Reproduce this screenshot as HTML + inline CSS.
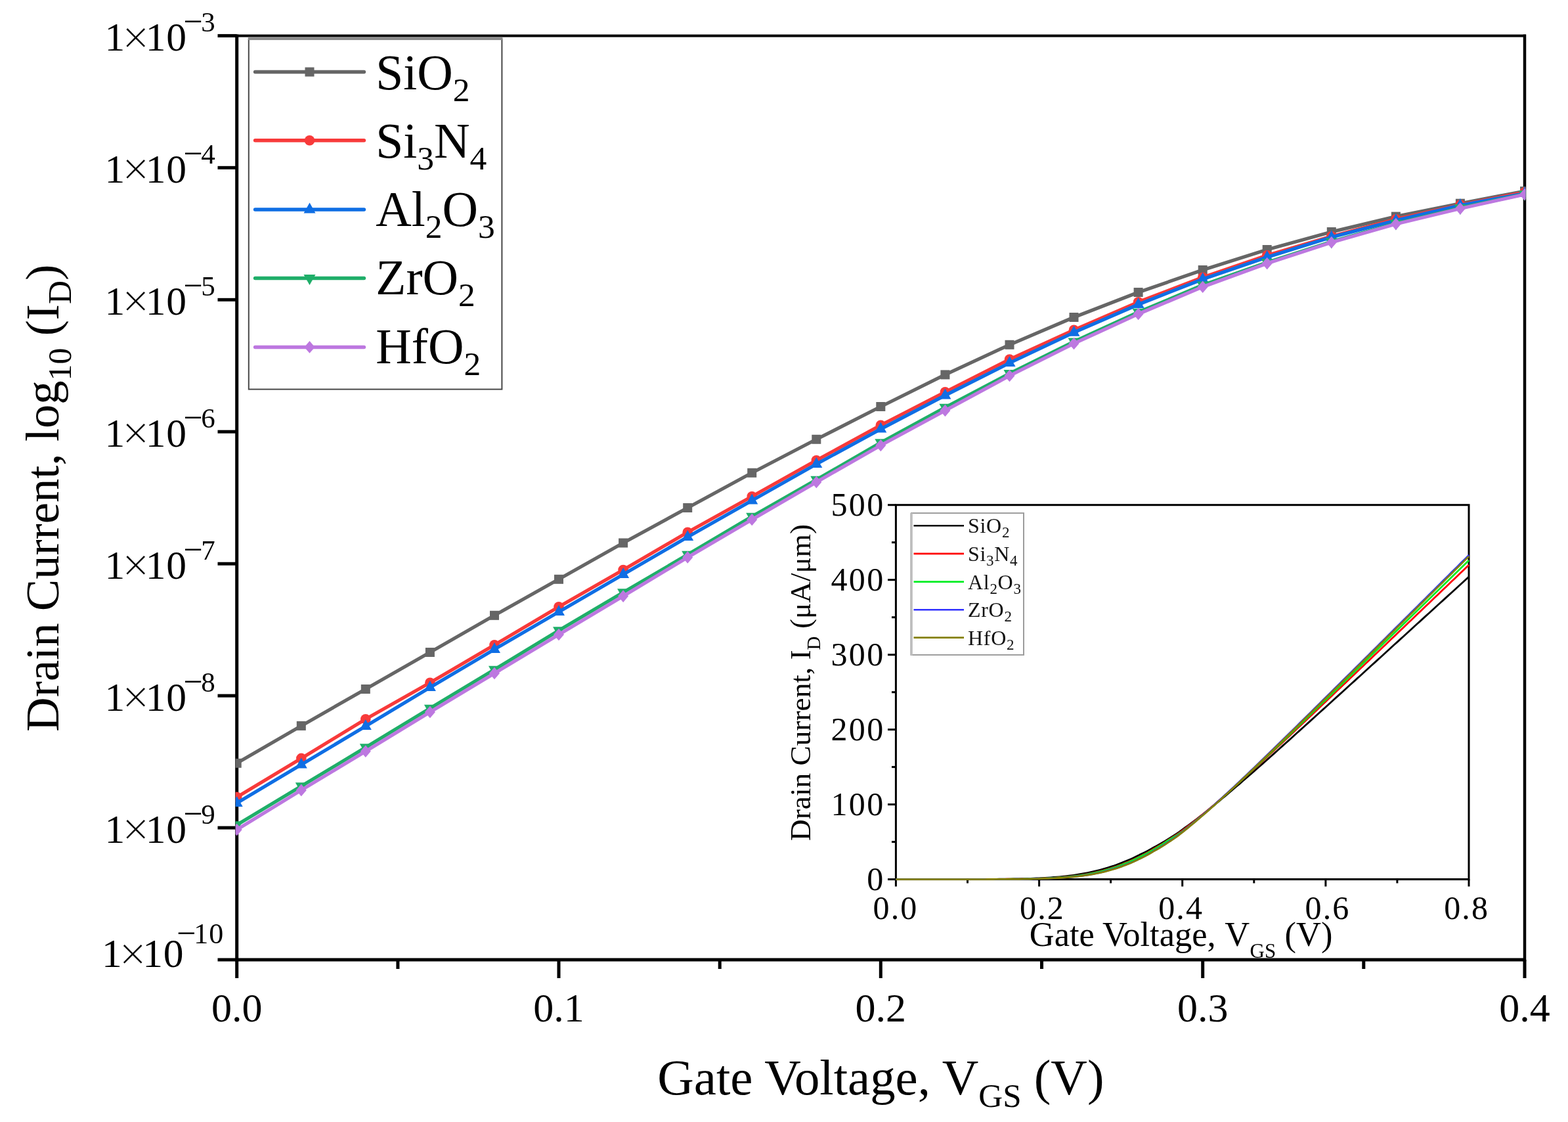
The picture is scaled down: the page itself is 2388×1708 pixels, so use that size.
<!DOCTYPE html><html><head><meta charset="utf-8"><title>Drain current vs gate voltage</title><style>html,body{margin:0;padding:0;background:#fff;overflow:hidden}svg{display:block}text{font-family:"Liberation Serif","Times New Roman",serif}</style></head><body>
<svg width="2388" height="1708" viewBox="0 0 2388 1708">
<rect width="2388" height="1708" fill="#fff"/>
<defs><clipPath id="cp"><rect x="358.7" y="54.4" width="1964.8" height="1406.6"/></clipPath></defs>
<g stroke="#000" fill="none" stroke-linecap="butt">
<line x1="358.2" y1="1461.0" x2="2324.0" y2="1461.0" stroke-width="5"/>
<line x1="360.7" y1="52.4" x2="360.7" y2="1463.5" stroke-width="5"/>
<line x1="358.2" y1="54.4" x2="2324.0" y2="54.4" stroke-width="4"/>
<line x1="2322.0" y1="52.4" x2="2322.0" y2="1463.5" stroke-width="4.5"/>
<line x1="331.5" y1="1461.0" x2="360.7" y2="1461.0" stroke-width="5"/>
<line x1="331.5" y1="1260.1" x2="360.7" y2="1260.1" stroke-width="5"/>
<line x1="331.5" y1="1059.1" x2="360.7" y2="1059.1" stroke-width="5"/>
<line x1="331.5" y1="858.2" x2="360.7" y2="858.2" stroke-width="5"/>
<line x1="331.5" y1="657.2" x2="360.7" y2="657.2" stroke-width="5"/>
<line x1="331.5" y1="456.3" x2="360.7" y2="456.3" stroke-width="5"/>
<line x1="331.5" y1="255.3" x2="360.7" y2="255.3" stroke-width="5"/>
<line x1="331.5" y1="54.4" x2="360.7" y2="54.4" stroke-width="5"/>
<line x1="360.7" y1="1461.0" x2="360.7" y2="1489" stroke-width="5"/>
<line x1="851.0" y1="1461.0" x2="851.0" y2="1489" stroke-width="5"/>
<line x1="1341.3" y1="1461.0" x2="1341.3" y2="1489" stroke-width="5"/>
<line x1="1831.7" y1="1461.0" x2="1831.7" y2="1489" stroke-width="5"/>
<line x1="2322.0" y1="1461.0" x2="2322.0" y2="1489" stroke-width="5"/>
<line x1="605.9" y1="1461.0" x2="605.9" y2="1475" stroke-width="5"/>
<line x1="1096.2" y1="1461.0" x2="1096.2" y2="1475" stroke-width="5"/>
<line x1="1586.5" y1="1461.0" x2="1586.5" y2="1475" stroke-width="5"/>
<line x1="2076.8" y1="1461.0" x2="2076.8" y2="1475" stroke-width="5"/>
</g>
<g clip-path="url(#cp)">
<polyline points="360.7,1161.8 458.8,1104.9 556.8,1049.0 654.9,993.0 753.0,936.8 851.0,881.8 949.1,826.5 1047.2,773.0 1145.2,719.8 1243.3,668.8 1341.3,619.0 1439.4,570.4 1537.5,524.8 1635.5,483.0 1733.6,445.0 1831.7,411.0 1929.7,380.0 2027.8,353.0 2125.9,329.6 2223.9,309.7 2322.0,291.0" fill="none" stroke="#666666" stroke-width="5.2" stroke-linejoin="round"/>
<rect x="353.7" y="1154.8" width="14" height="14" fill="#666666"/>
<rect x="451.8" y="1097.9" width="14" height="14" fill="#666666"/>
<rect x="549.8" y="1042.0" width="14" height="14" fill="#666666"/>
<rect x="647.9" y="986.0" width="14" height="14" fill="#666666"/>
<rect x="746.0" y="929.8" width="14" height="14" fill="#666666"/>
<rect x="844.0" y="874.8" width="14" height="14" fill="#666666"/>
<rect x="942.1" y="819.5" width="14" height="14" fill="#666666"/>
<rect x="1040.2" y="766.0" width="14" height="14" fill="#666666"/>
<rect x="1138.2" y="712.8" width="14" height="14" fill="#666666"/>
<rect x="1236.3" y="661.8" width="14" height="14" fill="#666666"/>
<rect x="1334.3" y="612.0" width="14" height="14" fill="#666666"/>
<rect x="1432.4" y="563.4" width="14" height="14" fill="#666666"/>
<rect x="1530.5" y="517.8" width="14" height="14" fill="#666666"/>
<rect x="1628.5" y="476.0" width="14" height="14" fill="#666666"/>
<rect x="1726.6" y="438.0" width="14" height="14" fill="#666666"/>
<rect x="1824.7" y="404.0" width="14" height="14" fill="#666666"/>
<rect x="1922.7" y="373.0" width="14" height="14" fill="#666666"/>
<rect x="2020.8" y="346.0" width="14" height="14" fill="#666666"/>
<rect x="2118.9" y="322.6" width="14" height="14" fill="#666666"/>
<rect x="2216.9" y="302.7" width="14" height="14" fill="#666666"/>
<rect x="2315.0" y="284.0" width="14" height="14" fill="#666666"/>
<polyline points="360.7,1213.4 458.8,1154.4 556.8,1094.8 654.9,1039.3 753.0,981.8 851.0,923.8 949.1,867.5 1047.2,810.2 1145.2,755.8 1243.3,700.8 1341.3,647.3 1439.4,596.8 1537.5,547.1 1635.5,502.3 1733.6,459.8 1831.7,422.3 1929.7,388.8 2027.8,359.8 2125.9,333.8 2223.9,311.8 2322.0,292.8" fill="none" stroke="#f83a3a" stroke-width="5.2" stroke-linejoin="round"/>
<circle cx="360.7" cy="1213.4" r="7.8" fill="#f83a3a"/>
<circle cx="458.8" cy="1154.4" r="7.8" fill="#f83a3a"/>
<circle cx="556.8" cy="1094.8" r="7.8" fill="#f83a3a"/>
<circle cx="654.9" cy="1039.3" r="7.8" fill="#f83a3a"/>
<circle cx="753.0" cy="981.8" r="7.8" fill="#f83a3a"/>
<circle cx="851.0" cy="923.8" r="7.8" fill="#f83a3a"/>
<circle cx="949.1" cy="867.5" r="7.8" fill="#f83a3a"/>
<circle cx="1047.2" cy="810.2" r="7.8" fill="#f83a3a"/>
<circle cx="1145.2" cy="755.8" r="7.8" fill="#f83a3a"/>
<circle cx="1243.3" cy="700.8" r="7.8" fill="#f83a3a"/>
<circle cx="1341.3" cy="647.3" r="7.8" fill="#f83a3a"/>
<circle cx="1439.4" cy="596.8" r="7.8" fill="#f83a3a"/>
<circle cx="1537.5" cy="547.1" r="7.8" fill="#f83a3a"/>
<circle cx="1635.5" cy="502.3" r="7.8" fill="#f83a3a"/>
<circle cx="1733.6" cy="459.8" r="7.8" fill="#f83a3a"/>
<circle cx="1831.7" cy="422.3" r="7.8" fill="#f83a3a"/>
<circle cx="1929.7" cy="388.8" r="7.8" fill="#f83a3a"/>
<circle cx="2027.8" cy="359.8" r="7.8" fill="#f83a3a"/>
<circle cx="2125.9" cy="333.8" r="7.8" fill="#f83a3a"/>
<circle cx="2223.9" cy="311.8" r="7.8" fill="#f83a3a"/>
<circle cx="2322.0" cy="292.8" r="7.8" fill="#f83a3a"/>
<polyline points="360.7,1222.5 458.8,1164.0 556.8,1105.5 654.9,1046.5 753.0,988.5 851.0,931.5 949.1,874.5 1047.2,817.5 1145.2,761.9 1243.3,706.5 1341.3,653.1 1439.4,601.9 1537.5,552.5 1635.5,506.2 1733.6,463.5 1831.7,425.0 1929.7,391.5 2027.8,361.1 2125.9,335.5 2223.9,312.5 2322.0,294.5" fill="none" stroke="#0f6ee4" stroke-width="5.2" stroke-linejoin="round"/>
<path d="M360.7 1212.0L369.7 1228.0L351.7 1228.0Z" fill="#0f6ee4"/>
<path d="M458.8 1153.5L467.8 1169.5L449.8 1169.5Z" fill="#0f6ee4"/>
<path d="M556.8 1095.0L565.8 1111.0L547.8 1111.0Z" fill="#0f6ee4"/>
<path d="M654.9 1036.0L663.9 1052.0L645.9 1052.0Z" fill="#0f6ee4"/>
<path d="M753.0 978.0L762.0 994.0L744.0 994.0Z" fill="#0f6ee4"/>
<path d="M851.0 921.0L860.0 937.0L842.0 937.0Z" fill="#0f6ee4"/>
<path d="M949.1 864.0L958.1 880.0L940.1 880.0Z" fill="#0f6ee4"/>
<path d="M1047.2 807.0L1056.2 823.0L1038.2 823.0Z" fill="#0f6ee4"/>
<path d="M1145.2 751.4L1154.2 767.4L1136.2 767.4Z" fill="#0f6ee4"/>
<path d="M1243.3 696.0L1252.3 712.0L1234.3 712.0Z" fill="#0f6ee4"/>
<path d="M1341.3 642.6L1350.3 658.6L1332.3 658.6Z" fill="#0f6ee4"/>
<path d="M1439.4 591.4L1448.4 607.4L1430.4 607.4Z" fill="#0f6ee4"/>
<path d="M1537.5 542.0L1546.5 558.0L1528.5 558.0Z" fill="#0f6ee4"/>
<path d="M1635.5 495.7L1644.5 511.7L1626.5 511.7Z" fill="#0f6ee4"/>
<path d="M1733.6 453.0L1742.6 469.0L1724.6 469.0Z" fill="#0f6ee4"/>
<path d="M1831.7 414.5L1840.7 430.5L1822.7 430.5Z" fill="#0f6ee4"/>
<path d="M1929.7 381.0L1938.7 397.0L1920.7 397.0Z" fill="#0f6ee4"/>
<path d="M2027.8 350.6L2036.8 366.6L2018.8 366.6Z" fill="#0f6ee4"/>
<path d="M2125.9 325.0L2134.9 341.0L2116.9 341.0Z" fill="#0f6ee4"/>
<path d="M2223.9 302.0L2232.9 318.0L2214.9 318.0Z" fill="#0f6ee4"/>
<path d="M2322.0 284.0L2331.0 300.0L2313.0 300.0Z" fill="#0f6ee4"/>
<polyline points="360.7,1255.8 458.8,1196.8 556.8,1137.8 654.9,1078.3 753.0,1019.3 851.0,959.8 949.1,901.8 1047.2,844.3 1145.2,786.3 1243.3,730.3 1341.3,673.8 1439.4,620.3 1537.5,568.5 1635.5,520.0 1733.6,475.2 1831.7,434.0 1929.7,399.5 2027.8,368.0 2125.9,340.0 2223.9,316.5 2322.0,295.5" fill="none" stroke="#1fae69" stroke-width="5.2" stroke-linejoin="round"/>
<path d="M360.7 1266.3L369.7 1250.3L351.7 1250.3Z" fill="#1fae69"/>
<path d="M458.8 1207.3L467.8 1191.3L449.8 1191.3Z" fill="#1fae69"/>
<path d="M556.8 1148.3L565.8 1132.3L547.8 1132.3Z" fill="#1fae69"/>
<path d="M654.9 1088.8L663.9 1072.8L645.9 1072.8Z" fill="#1fae69"/>
<path d="M753.0 1029.8L762.0 1013.8L744.0 1013.8Z" fill="#1fae69"/>
<path d="M851.0 970.3L860.0 954.3L842.0 954.3Z" fill="#1fae69"/>
<path d="M949.1 912.3L958.1 896.3L940.1 896.3Z" fill="#1fae69"/>
<path d="M1047.2 854.8L1056.2 838.8L1038.2 838.8Z" fill="#1fae69"/>
<path d="M1145.2 796.8L1154.2 780.8L1136.2 780.8Z" fill="#1fae69"/>
<path d="M1243.3 740.8L1252.3 724.8L1234.3 724.8Z" fill="#1fae69"/>
<path d="M1341.3 684.3L1350.3 668.3L1332.3 668.3Z" fill="#1fae69"/>
<path d="M1439.4 630.8L1448.4 614.8L1430.4 614.8Z" fill="#1fae69"/>
<path d="M1537.5 579.0L1546.5 563.0L1528.5 563.0Z" fill="#1fae69"/>
<path d="M1635.5 530.5L1644.5 514.5L1626.5 514.5Z" fill="#1fae69"/>
<path d="M1733.6 485.7L1742.6 469.7L1724.6 469.7Z" fill="#1fae69"/>
<path d="M1831.7 444.5L1840.7 428.5L1822.7 428.5Z" fill="#1fae69"/>
<path d="M1929.7 410.0L1938.7 394.0L1920.7 394.0Z" fill="#1fae69"/>
<path d="M2027.8 378.5L2036.8 362.5L2018.8 362.5Z" fill="#1fae69"/>
<path d="M2125.9 350.5L2134.9 334.5L2116.9 334.5Z" fill="#1fae69"/>
<path d="M2223.9 327.0L2232.9 311.0L2214.9 311.0Z" fill="#1fae69"/>
<path d="M2322.0 306.0L2331.0 290.0L2313.0 290.0Z" fill="#1fae69"/>
<polyline points="360.7,1263.0 458.8,1202.9 556.8,1143.7 654.9,1084.0 753.0,1025.0 851.0,966.0 949.1,907.6 1047.2,848.4 1145.2,791.0 1243.3,734.0 1341.3,678.0 1439.4,625.0 1537.5,572.0 1635.5,523.0 1733.6,478.0 1831.7,436.7 1929.7,401.0 2027.8,369.0 2125.9,341.0 2223.9,317.5 2322.0,296.0" fill="none" stroke="#bd78e0" stroke-width="5.2" stroke-linejoin="round"/>
<path d="M360.7 1253.7L368.7 1263.0L360.7 1272.3L352.7 1263.0Z" fill="#bd78e0"/>
<path d="M458.8 1193.6L466.8 1202.9L458.8 1212.2L450.8 1202.9Z" fill="#bd78e0"/>
<path d="M556.8 1134.4L564.8 1143.7L556.8 1153.0L548.8 1143.7Z" fill="#bd78e0"/>
<path d="M654.9 1074.7L662.9 1084.0L654.9 1093.3L646.9 1084.0Z" fill="#bd78e0"/>
<path d="M753.0 1015.7L761.0 1025.0L753.0 1034.3L745.0 1025.0Z" fill="#bd78e0"/>
<path d="M851.0 956.7L859.0 966.0L851.0 975.3L843.0 966.0Z" fill="#bd78e0"/>
<path d="M949.1 898.3L957.1 907.6L949.1 916.9L941.1 907.6Z" fill="#bd78e0"/>
<path d="M1047.2 839.1L1055.2 848.4L1047.2 857.7L1039.2 848.4Z" fill="#bd78e0"/>
<path d="M1145.2 781.7L1153.2 791.0L1145.2 800.3L1137.2 791.0Z" fill="#bd78e0"/>
<path d="M1243.3 724.7L1251.3 734.0L1243.3 743.3L1235.3 734.0Z" fill="#bd78e0"/>
<path d="M1341.3 668.7L1349.3 678.0L1341.3 687.3L1333.3 678.0Z" fill="#bd78e0"/>
<path d="M1439.4 615.7L1447.4 625.0L1439.4 634.3L1431.4 625.0Z" fill="#bd78e0"/>
<path d="M1537.5 562.7L1545.5 572.0L1537.5 581.3L1529.5 572.0Z" fill="#bd78e0"/>
<path d="M1635.5 513.7L1643.5 523.0L1635.5 532.3L1627.5 523.0Z" fill="#bd78e0"/>
<path d="M1733.6 468.7L1741.6 478.0L1733.6 487.3L1725.6 478.0Z" fill="#bd78e0"/>
<path d="M1831.7 427.4L1839.7 436.7L1831.7 446.0L1823.7 436.7Z" fill="#bd78e0"/>
<path d="M1929.7 391.7L1937.7 401.0L1929.7 410.3L1921.7 401.0Z" fill="#bd78e0"/>
<path d="M2027.8 359.7L2035.8 369.0L2027.8 378.3L2019.8 369.0Z" fill="#bd78e0"/>
<path d="M2125.9 331.7L2133.9 341.0L2125.9 350.3L2117.9 341.0Z" fill="#bd78e0"/>
<path d="M2223.9 308.2L2231.9 317.5L2223.9 326.8L2215.9 317.5Z" fill="#bd78e0"/>
<path d="M2322.0 286.7L2330.0 296.0L2322.0 305.3L2314.0 296.0Z" fill="#bd78e0"/>
</g>
<text x="360.7" y="1555" font-size="62" text-anchor="middle">0.0</text>
<text x="851.0" y="1555" font-size="62" text-anchor="middle">0.1</text>
<text x="1341.3" y="1555" font-size="62" text-anchor="middle">0.2</text>
<text x="1831.7" y="1555" font-size="62" text-anchor="middle">0.3</text>
<text x="2322.0" y="1555" font-size="62" text-anchor="middle">0.4</text>
<text y="1282.6" font-size="61.5"><tspan x="159.4">1</tspan><tspan x="185.8" font-size="74" dy="4.6" stroke="#fff" stroke-width="1.1">×</tspan><tspan x="221.8" dy="-4.6">1</tspan><tspan x="253.3">0</tspan><tspan x="279.2" font-size="52" dy="-26.5">−</tspan><tspan x="306.3" font-size="43" dy="-2">9</tspan></text>
<text y="1081.6" font-size="61.5"><tspan x="159.4">1</tspan><tspan x="185.8" font-size="74" dy="4.6" stroke="#fff" stroke-width="1.1">×</tspan><tspan x="221.8" dy="-4.6">1</tspan><tspan x="253.3">0</tspan><tspan x="279.2" font-size="52" dy="-26.5">−</tspan><tspan x="306.3" font-size="43" dy="-2">8</tspan></text>
<text y="880.7" font-size="61.5"><tspan x="159.4">1</tspan><tspan x="185.8" font-size="74" dy="4.6" stroke="#fff" stroke-width="1.1">×</tspan><tspan x="221.8" dy="-4.6">1</tspan><tspan x="253.3">0</tspan><tspan x="279.2" font-size="52" dy="-26.5">−</tspan><tspan x="306.3" font-size="43" dy="-2">7</tspan></text>
<text y="679.7" font-size="61.5"><tspan x="159.4">1</tspan><tspan x="185.8" font-size="74" dy="4.6" stroke="#fff" stroke-width="1.1">×</tspan><tspan x="221.8" dy="-4.6">1</tspan><tspan x="253.3">0</tspan><tspan x="279.2" font-size="52" dy="-26.5">−</tspan><tspan x="306.3" font-size="43" dy="-2">6</tspan></text>
<text y="478.8" font-size="61.5"><tspan x="159.4">1</tspan><tspan x="185.8" font-size="74" dy="4.6" stroke="#fff" stroke-width="1.1">×</tspan><tspan x="221.8" dy="-4.6">1</tspan><tspan x="253.3">0</tspan><tspan x="279.2" font-size="52" dy="-26.5">−</tspan><tspan x="306.3" font-size="43" dy="-2">5</tspan></text>
<text y="277.8" font-size="61.5"><tspan x="159.4">1</tspan><tspan x="185.8" font-size="74" dy="4.6" stroke="#fff" stroke-width="1.1">×</tspan><tspan x="221.8" dy="-4.6">1</tspan><tspan x="253.3">0</tspan><tspan x="279.2" font-size="52" dy="-26.5">−</tspan><tspan x="306.3" font-size="43" dy="-2">4</tspan></text>
<text y="76.9" font-size="61.5"><tspan x="159.4">1</tspan><tspan x="185.8" font-size="74" dy="4.6" stroke="#fff" stroke-width="1.1">×</tspan><tspan x="221.8" dy="-4.6">1</tspan><tspan x="253.3">0</tspan><tspan x="279.2" font-size="52" dy="-26.5">−</tspan><tspan x="306.3" font-size="43" dy="-2">3</tspan></text>
<text y="1472.0" font-size="61.5"><tspan x="154.9">1</tspan><tspan x="181.3" font-size="74" dy="4.6" stroke="#fff" stroke-width="1.1">×</tspan><tspan x="217.3" dy="-4.6">1</tspan><tspan x="248.8">0</tspan><tspan x="269" font-size="52" dy="-34.3">−</tspan><tspan x="295.3" font-size="44" dy="-2">1</tspan><tspan x="318.2" font-size="44">0</tspan></text>
<text transform="translate(88.5,758.2) rotate(-90)" font-size="72.6" text-anchor="middle">Drain Current, log<tspan font-size="50" dy="19">10</tspan><tspan dy="-19"> (I</tspan><tspan font-size="50" dy="19">D</tspan><tspan dy="-19">)</tspan></text>
<text x="1341.4" y="1665.6" font-size="76.9" text-anchor="middle">Gate Voltage, V<tspan font-size="51" dy="19">GS</tspan><tspan dy="-19"> (V)</tspan></text>
<rect x="378.8" y="59.6" width="385.6" height="533" fill="#fff" stroke="#474747" stroke-width="2"/>
<rect x="377.8" y="56.4" width="387.6" height="4.6" fill="#8c8c8c"/>
<line x1="388.6" y1="109.5" x2="554.4" y2="109.5" stroke="#666666" stroke-width="5.5" stroke-linecap="round"/>
<rect x="464.5" y="102.5" width="14" height="14" fill="#666666"/>
<text x="572.3" y="135.5" font-size="75.5">SiO<tspan font-size="51.5" dy="18">2</tspan></text>
<line x1="388.6" y1="213.8" x2="554.4" y2="213.8" stroke="#f83a3a" stroke-width="5.5" stroke-linecap="round"/>
<circle cx="471.5" cy="213.8" r="7.8" fill="#f83a3a"/>
<text x="572.3" y="239.7" font-size="75.5">Si<tspan font-size="51.5" dy="18">3</tspan><tspan dy="-18">N</tspan><tspan font-size="51.5" dy="18">4</tspan></text>
<line x1="388.6" y1="319" x2="554.4" y2="319" stroke="#0f6ee4" stroke-width="5.5" stroke-linecap="round"/>
<path d="M471.5 308.5L480.5 324.5L462.5 324.5Z" fill="#0f6ee4"/>
<text x="572.3" y="343.7" font-size="75.5">Al<tspan font-size="51.5" dy="18">2</tspan><tspan dy="-18">O</tspan><tspan font-size="51.5" dy="18">3</tspan></text>
<line x1="388.6" y1="423.5" x2="554.4" y2="423.5" stroke="#1fae69" stroke-width="5.5" stroke-linecap="round"/>
<path d="M471.5 434.0L480.5 418.0L462.5 418.0Z" fill="#1fae69"/>
<text x="572.3" y="448.2" font-size="75.5">ZrO<tspan font-size="51.5" dy="18">2</tspan></text>
<line x1="388.6" y1="528.4" x2="554.4" y2="528.4" stroke="#bd78e0" stroke-width="5.5" stroke-linecap="round"/>
<path d="M471.5 519.1L479.5 528.4L471.5 537.7L463.5 528.4Z" fill="#bd78e0"/>
<text x="572.3" y="552.7" font-size="75.5">HfO<tspan font-size="51.5" dy="18">2</tspan></text>
<g stroke="#000" fill="none" stroke-width="3">
<rect x="1364.4" y="768.7" width="872.5999999999999" height="569.8999999999999"/>
<line x1="1352" y1="1338.6" x2="1364.4" y2="1338.6"/>
<line x1="1352" y1="1224.6" x2="1364.4" y2="1224.6"/>
<line x1="1352" y1="1110.6" x2="1364.4" y2="1110.6"/>
<line x1="1352" y1="996.7" x2="1364.4" y2="996.7"/>
<line x1="1352" y1="882.7" x2="1364.4" y2="882.7"/>
<line x1="1352" y1="768.7" x2="1364.4" y2="768.7"/>
<line x1="1358" y1="1281.6" x2="1364.4" y2="1281.6"/>
<line x1="1358" y1="1167.6" x2="1364.4" y2="1167.6"/>
<line x1="1358" y1="1053.7" x2="1364.4" y2="1053.7"/>
<line x1="1358" y1="939.7" x2="1364.4" y2="939.7"/>
<line x1="1358" y1="825.7" x2="1364.4" y2="825.7"/>
<line x1="1364.4" y1="1338.6" x2="1364.4" y2="1349.5"/>
<line x1="1582.6" y1="1338.6" x2="1582.6" y2="1349.5"/>
<line x1="1800.7" y1="1338.6" x2="1800.7" y2="1349.5"/>
<line x1="2018.9" y1="1338.6" x2="2018.9" y2="1349.5"/>
<line x1="2237.0" y1="1338.6" x2="2237.0" y2="1349.5"/>
<line x1="1473.5" y1="1338.6" x2="1473.5" y2="1344.5"/>
<line x1="1691.6" y1="1338.6" x2="1691.6" y2="1344.5"/>
<line x1="1909.8" y1="1338.6" x2="1909.8" y2="1344.5"/>
<line x1="2127.9" y1="1338.6" x2="2127.9" y2="1344.5"/>
</g>
<g fill="none" stroke-width="2.8" stroke-linejoin="round">
<path d="M1364.4 1338.6H2237.0" stroke="#000" stroke-width="3"/>
<path d="M1364.40 1338.60 L1368.76 1338.60 L1373.13 1338.60 L1377.49 1338.59 L1381.85 1338.59 L1386.22 1338.59 L1390.58 1338.59 L1394.94 1338.59 L1399.30 1338.59 L1403.67 1338.59 L1408.03 1338.59 L1412.39 1338.59 L1416.76 1338.58 L1421.12 1338.58 L1425.48 1338.58 L1429.85 1338.58 L1434.21 1338.57 L1438.57 1338.57 L1442.93 1338.56 L1447.30 1338.56 L1451.66 1338.55 L1456.02 1338.55 L1460.39 1338.54 L1464.75 1338.53 L1469.11 1338.52 L1473.48 1338.51 L1477.84 1338.50 L1482.20 1338.49 L1486.56 1338.47 L1490.93 1338.46 L1495.29 1338.44 L1499.65 1338.41 L1504.02 1338.39 L1508.38 1338.36 L1512.74 1338.33 L1517.11 1338.30 L1521.47 1338.26 L1525.83 1338.21 L1530.19 1338.16 L1534.56 1338.11 L1538.92 1338.04 L1543.28 1337.97 L1547.65 1337.90 L1552.01 1337.81 L1556.37 1337.71 L1560.74 1337.60 L1565.10 1337.48 L1569.46 1337.35 L1573.82 1337.19 L1578.19 1337.02 L1582.55 1336.83 L1586.91 1336.63 L1591.28 1336.39 L1595.64 1336.13 L1600.00 1335.84 L1604.37 1335.52 L1608.73 1335.18 L1613.09 1334.80 L1617.45 1334.38 L1621.82 1333.92 L1626.18 1333.40 L1630.54 1332.88 L1634.91 1332.30 L1639.27 1331.67 L1643.63 1330.97 L1648.00 1330.21 L1652.36 1329.44 L1656.72 1328.61 L1661.08 1327.70 L1665.45 1326.71 L1669.81 1325.63 L1674.17 1324.58 L1678.54 1323.44 L1682.90 1322.21 L1687.26 1320.88 L1691.62 1319.45 L1695.99 1318.04 L1700.35 1316.52 L1704.71 1314.90 L1709.08 1313.15 L1713.44 1311.28 L1717.80 1309.54 L1722.17 1307.68 L1726.53 1305.71 L1730.89 1303.61 L1735.26 1301.38 L1739.62 1299.32 L1743.98 1297.16 L1748.34 1294.88 L1752.71 1292.47 L1757.07 1289.93 L1761.43 1287.66 L1765.80 1285.28 L1770.16 1282.79 L1774.52 1280.19 L1778.88 1277.46 L1783.25 1274.78 L1787.61 1271.99 L1791.97 1269.07 L1796.34 1266.03 L1800.70 1262.85 L1805.06 1259.73 L1809.43 1256.56 L1813.79 1253.34 L1818.15 1250.07 L1822.52 1246.75 L1826.88 1243.40 L1831.24 1240.00 L1835.60 1236.56 L1839.97 1233.09 L1844.33 1229.59 L1848.69 1226.05 L1853.06 1222.48 L1857.42 1218.89 L1861.78 1215.26 L1866.14 1211.62 L1870.51 1207.95 L1874.87 1204.26 L1879.23 1200.54 L1883.60 1196.81 L1887.96 1193.07 L1892.32 1189.30 L1896.69 1185.52 L1901.05 1181.73 L1905.41 1177.92 L1909.78 1174.10 L1914.14 1170.27 L1918.50 1166.43 L1922.86 1162.58 L1927.23 1158.72 L1931.59 1154.86 L1935.95 1150.98 L1940.32 1147.10 L1944.68 1143.21 L1949.04 1139.31 L1953.41 1135.41 L1957.77 1131.50 L1962.13 1127.59 L1966.49 1123.68 L1970.86 1119.76 L1975.22 1115.83 L1979.58 1111.90 L1983.95 1107.97 L1988.31 1104.04 L1992.67 1100.10 L1997.03 1096.16 L2001.40 1092.22 L2005.76 1088.27 L2010.12 1084.33 L2014.49 1080.38 L2018.85 1076.43 L2023.21 1072.48 L2027.58 1068.52 L2031.94 1064.57 L2036.30 1060.61 L2040.66 1056.66 L2045.03 1052.70 L2049.39 1048.74 L2053.75 1044.78 L2058.12 1040.82 L2062.48 1036.85 L2066.84 1032.89 L2071.21 1028.93 L2075.57 1024.96 L2079.93 1021.00 L2084.30 1017.03 L2088.66 1013.07 L2093.02 1009.10 L2097.38 1005.14 L2101.75 1001.17 L2106.11 997.20 L2110.47 993.23 L2114.84 989.27 L2119.20 985.30 L2123.56 981.33 L2127.93 977.36 L2132.29 973.39 L2136.65 969.42 L2141.01 965.45 L2145.38 961.48 L2149.74 957.51 L2154.10 953.54 L2158.47 949.57 L2162.83 945.60 L2167.19 941.63 L2171.55 937.66 L2175.92 933.69 L2180.28 929.72 L2184.64 925.75 L2189.01 921.78 L2193.37 917.81 L2197.73 913.84 L2202.10 909.87 L2206.46 905.90 L2210.82 901.93 L2215.18 897.96 L2219.55 893.99 L2223.91 890.01 L2228.27 886.04 L2232.64 882.07 L2237.00 878.10" stroke="#000000"/>
<path d="M1364.40 1338.60 L1368.76 1338.60 L1373.13 1338.60 L1377.49 1338.60 L1381.85 1338.60 L1386.22 1338.60 L1390.58 1338.60 L1394.94 1338.59 L1399.30 1338.59 L1403.67 1338.59 L1408.03 1338.59 L1412.39 1338.59 L1416.76 1338.59 L1421.12 1338.59 L1425.48 1338.59 L1429.85 1338.59 L1434.21 1338.58 L1438.57 1338.58 L1442.93 1338.58 L1447.30 1338.58 L1451.66 1338.57 L1456.02 1338.57 L1460.39 1338.56 L1464.75 1338.56 L1469.11 1338.55 L1473.48 1338.55 L1477.84 1338.54 L1482.20 1338.53 L1486.56 1338.52 L1490.93 1338.51 L1495.29 1338.50 L1499.65 1338.48 L1504.02 1338.47 L1508.38 1338.45 L1512.74 1338.43 L1517.11 1338.40 L1521.47 1338.38 L1525.83 1338.35 L1530.19 1338.31 L1534.56 1338.27 L1538.92 1338.23 L1543.28 1338.18 L1547.65 1338.13 L1552.01 1338.06 L1556.37 1337.99 L1560.74 1337.91 L1565.10 1337.82 L1569.46 1337.72 L1573.82 1337.60 L1578.19 1337.47 L1582.55 1337.32 L1586.91 1337.17 L1591.28 1336.99 L1595.64 1336.79 L1600.00 1336.57 L1604.37 1336.32 L1608.73 1336.05 L1613.09 1335.74 L1617.45 1335.39 L1621.82 1335.01 L1626.18 1334.57 L1630.54 1334.14 L1634.91 1333.66 L1639.27 1333.12 L1643.63 1332.53 L1648.00 1331.87 L1652.36 1331.18 L1656.72 1330.43 L1661.08 1329.59 L1665.45 1328.67 L1669.81 1327.65 L1674.17 1326.67 L1678.54 1325.60 L1682.90 1324.43 L1687.26 1323.16 L1691.62 1321.77 L1695.99 1320.43 L1700.35 1318.98 L1704.71 1317.42 L1709.08 1315.73 L1713.44 1313.90 L1717.80 1312.20 L1722.17 1310.39 L1726.53 1308.45 L1730.89 1306.38 L1735.26 1304.17 L1739.62 1302.05 L1743.98 1299.81 L1748.34 1297.43 L1752.71 1294.90 L1757.07 1292.21 L1761.43 1289.82 L1765.80 1287.29 L1770.16 1284.64 L1774.52 1281.85 L1778.88 1278.91 L1783.25 1276.26 L1787.61 1273.48 L1791.97 1270.59 L1796.34 1267.56 L1800.70 1264.40 L1805.06 1261.08 L1809.43 1257.71 L1813.79 1254.30 L1818.15 1250.83 L1822.52 1247.32 L1826.88 1243.77 L1831.24 1240.18 L1835.60 1236.55 L1839.97 1232.88 L1844.33 1229.18 L1848.69 1225.44 L1853.06 1221.68 L1857.42 1217.89 L1861.78 1214.07 L1866.14 1210.23 L1870.51 1206.36 L1874.87 1202.48 L1879.23 1198.57 L1883.60 1194.65 L1887.96 1190.70 L1892.32 1186.74 L1896.69 1182.77 L1901.05 1178.78 L1905.41 1174.78 L1909.78 1170.76 L1914.14 1166.74 L1918.50 1162.70 L1922.86 1158.65 L1927.23 1154.60 L1931.59 1150.54 L1935.95 1146.46 L1940.32 1142.39 L1944.68 1138.30 L1949.04 1134.21 L1953.41 1130.11 L1957.77 1126.01 L1962.13 1121.90 L1966.49 1117.79 L1970.86 1113.68 L1975.22 1109.56 L1979.58 1105.43 L1983.95 1101.31 L1988.31 1097.18 L1992.67 1093.04 L1997.03 1088.91 L2001.40 1084.77 L2005.76 1080.63 L2010.12 1076.49 L2014.49 1072.34 L2018.85 1068.20 L2023.21 1064.05 L2027.58 1059.90 L2031.94 1055.75 L2036.30 1051.60 L2040.66 1047.45 L2045.03 1043.29 L2049.39 1039.14 L2053.75 1034.98 L2058.12 1030.83 L2062.48 1026.67 L2066.84 1022.51 L2071.21 1018.35 L2075.57 1014.19 L2079.93 1010.03 L2084.30 1005.87 L2088.66 1001.71 L2093.02 997.55 L2097.38 993.39 L2101.75 989.22 L2106.11 985.06 L2110.47 980.90 L2114.84 976.73 L2119.20 972.57 L2123.56 968.41 L2127.93 964.24 L2132.29 960.08 L2136.65 955.91 L2141.01 951.75 L2145.38 947.58 L2149.74 943.42 L2154.10 939.25 L2158.47 935.09 L2162.83 930.92 L2167.19 926.75 L2171.55 922.59 L2175.92 918.42 L2180.28 914.26 L2184.64 910.09 L2189.01 905.92 L2193.37 901.76 L2197.73 897.59 L2202.10 893.42 L2206.46 889.26 L2210.82 885.09 L2215.18 880.93 L2219.55 876.76 L2223.91 872.59 L2228.27 868.43 L2232.64 864.26 L2237.00 860.09" stroke="#ff0000"/>
<path d="M1364.40 1338.60 L1368.76 1338.60 L1373.13 1338.60 L1377.49 1338.60 L1381.85 1338.60 L1386.22 1338.60 L1390.58 1338.60 L1394.94 1338.60 L1399.30 1338.59 L1403.67 1338.59 L1408.03 1338.59 L1412.39 1338.59 L1416.76 1338.59 L1421.12 1338.59 L1425.48 1338.59 L1429.85 1338.59 L1434.21 1338.58 L1438.57 1338.58 L1442.93 1338.58 L1447.30 1338.58 L1451.66 1338.57 L1456.02 1338.57 L1460.39 1338.57 L1464.75 1338.56 L1469.11 1338.56 L1473.48 1338.55 L1477.84 1338.54 L1482.20 1338.54 L1486.56 1338.53 L1490.93 1338.52 L1495.29 1338.51 L1499.65 1338.49 L1504.02 1338.48 L1508.38 1338.46 L1512.74 1338.44 L1517.11 1338.42 L1521.47 1338.39 L1525.83 1338.37 L1530.19 1338.33 L1534.56 1338.30 L1538.92 1338.26 L1543.28 1338.21 L1547.65 1338.16 L1552.01 1338.10 L1556.37 1338.03 L1560.74 1337.95 L1565.10 1337.87 L1569.46 1337.77 L1573.82 1337.66 L1578.19 1337.54 L1582.55 1337.40 L1586.91 1337.26 L1591.28 1337.09 L1595.64 1336.90 L1600.00 1336.69 L1604.37 1336.45 L1608.73 1336.19 L1613.09 1335.91 L1617.45 1335.58 L1621.82 1335.22 L1626.18 1334.82 L1630.54 1334.39 L1634.91 1333.92 L1639.27 1333.40 L1643.63 1332.81 L1648.00 1332.17 L1652.36 1331.51 L1656.72 1330.78 L1661.08 1329.97 L1665.45 1329.08 L1669.81 1328.11 L1674.17 1327.14 L1678.54 1326.08 L1682.90 1324.93 L1687.26 1323.67 L1691.62 1322.29 L1695.99 1320.99 L1700.35 1319.58 L1704.71 1318.06 L1709.08 1316.42 L1713.44 1314.65 L1717.80 1312.93 L1722.17 1311.07 L1726.53 1309.09 L1730.89 1306.96 L1735.26 1304.67 L1739.62 1302.62 L1743.98 1300.45 L1748.34 1298.15 L1752.71 1295.70 L1757.07 1293.11 L1761.43 1290.65 L1765.80 1288.05 L1770.16 1285.32 L1774.52 1282.43 L1778.88 1279.39 L1783.25 1276.90 L1787.61 1274.30 L1791.97 1271.59 L1796.34 1268.77 L1800.70 1265.83 L1805.06 1262.43 L1809.43 1258.98 L1813.79 1255.47 L1818.15 1251.92 L1822.52 1248.33 L1826.88 1244.69 L1831.24 1241.01 L1835.60 1237.30 L1839.97 1233.55 L1844.33 1229.76 L1848.69 1225.94 L1853.06 1222.09 L1857.42 1218.22 L1861.78 1214.31 L1866.14 1210.39 L1870.51 1206.44 L1874.87 1202.46 L1879.23 1198.47 L1883.60 1194.46 L1887.96 1190.43 L1892.32 1186.39 L1896.69 1182.33 L1901.05 1178.26 L1905.41 1174.17 L1909.78 1170.07 L1914.14 1165.96 L1918.50 1161.84 L1922.86 1157.71 L1927.23 1153.57 L1931.59 1149.42 L1935.95 1145.26 L1940.32 1141.10 L1944.68 1136.93 L1949.04 1132.75 L1953.41 1128.57 L1957.77 1124.38 L1962.13 1120.19 L1966.49 1115.99 L1970.86 1111.79 L1975.22 1107.59 L1979.58 1103.38 L1983.95 1099.17 L1988.31 1094.95 L1992.67 1090.74 L1997.03 1086.51 L2001.40 1082.29 L2005.76 1078.07 L2010.12 1073.84 L2014.49 1069.61 L2018.85 1065.38 L2023.21 1061.15 L2027.58 1056.91 L2031.94 1052.68 L2036.30 1048.44 L2040.66 1044.20 L2045.03 1039.97 L2049.39 1035.73 L2053.75 1031.48 L2058.12 1027.24 L2062.48 1023.00 L2066.84 1018.76 L2071.21 1014.51 L2075.57 1010.27 L2079.93 1006.02 L2084.30 1001.78 L2088.66 997.53 L2093.02 993.28 L2097.38 989.04 L2101.75 984.79 L2106.11 980.54 L2110.47 976.29 L2114.84 972.05 L2119.20 967.80 L2123.56 963.55 L2127.93 959.30 L2132.29 955.05 L2136.65 950.80 L2141.01 946.55 L2145.38 942.30 L2149.74 938.05 L2154.10 933.80 L2158.47 929.55 L2162.83 925.30 L2167.19 921.05 L2171.55 916.80 L2175.92 912.55 L2180.28 908.29 L2184.64 904.04 L2189.01 899.79 L2193.37 895.54 L2197.73 891.29 L2202.10 887.04 L2206.46 882.79 L2210.82 878.53 L2215.18 874.28 L2219.55 870.03 L2223.91 865.78 L2228.27 861.53 L2232.64 857.28 L2237.00 853.02" stroke="#00ee22"/>
<path d="M1364.40 1338.60 L1368.76 1338.60 L1373.13 1338.60 L1377.49 1338.60 L1381.85 1338.60 L1386.22 1338.60 L1390.58 1338.60 L1394.94 1338.60 L1399.30 1338.60 L1403.67 1338.60 L1408.03 1338.60 L1412.39 1338.59 L1416.76 1338.59 L1421.12 1338.59 L1425.48 1338.59 L1429.85 1338.59 L1434.21 1338.59 L1438.57 1338.59 L1442.93 1338.59 L1447.30 1338.58 L1451.66 1338.58 L1456.02 1338.58 L1460.39 1338.58 L1464.75 1338.57 L1469.11 1338.57 L1473.48 1338.56 L1477.84 1338.56 L1482.20 1338.55 L1486.56 1338.55 L1490.93 1338.54 L1495.29 1338.53 L1499.65 1338.52 L1504.02 1338.51 L1508.38 1338.50 L1512.74 1338.48 L1517.11 1338.47 L1521.47 1338.45 L1525.83 1338.43 L1530.19 1338.40 L1534.56 1338.37 L1538.92 1338.34 L1543.28 1338.30 L1547.65 1338.26 L1552.01 1338.22 L1556.37 1338.17 L1560.74 1338.11 L1565.10 1338.04 L1569.46 1337.96 L1573.82 1337.87 L1578.19 1337.77 L1582.55 1337.66 L1586.91 1337.53 L1591.28 1337.40 L1595.64 1337.24 L1600.00 1337.06 L1604.37 1336.86 L1608.73 1336.64 L1613.09 1336.39 L1617.45 1336.12 L1621.82 1335.80 L1626.18 1335.45 L1630.54 1335.08 L1634.91 1334.67 L1639.27 1334.20 L1643.63 1333.69 L1648.00 1333.11 L1652.36 1332.51 L1656.72 1331.86 L1661.08 1331.13 L1665.45 1330.32 L1669.81 1329.42 L1674.17 1328.51 L1678.54 1327.52 L1682.90 1326.42 L1687.26 1325.21 L1691.62 1323.89 L1695.99 1322.68 L1700.35 1321.37 L1704.71 1319.95 L1709.08 1318.41 L1713.44 1316.75 L1717.80 1315.12 L1722.17 1313.36 L1726.53 1311.47 L1730.89 1309.44 L1735.26 1307.25 L1739.62 1305.18 L1743.98 1302.96 L1748.34 1300.60 L1752.71 1298.08 L1757.07 1295.40 L1761.43 1293.00 L1765.80 1290.48 L1770.16 1287.82 L1774.52 1285.01 L1778.88 1282.04 L1783.25 1279.26 L1787.61 1276.33 L1791.97 1273.26 L1796.34 1270.04 L1800.70 1266.66 L1805.06 1263.17 L1809.43 1259.63 L1813.79 1256.04 L1818.15 1252.40 L1822.52 1248.72 L1826.88 1244.99 L1831.24 1241.23 L1835.60 1237.42 L1839.97 1233.58 L1844.33 1229.71 L1848.69 1225.80 L1853.06 1221.87 L1857.42 1217.90 L1861.78 1213.91 L1866.14 1209.89 L1870.51 1205.86 L1874.87 1201.80 L1879.23 1197.72 L1883.60 1193.62 L1887.96 1189.50 L1892.32 1185.37 L1896.69 1181.22 L1901.05 1177.06 L1905.41 1172.88 L1909.78 1168.70 L1914.14 1164.50 L1918.50 1160.29 L1922.86 1156.07 L1927.23 1151.84 L1931.59 1147.60 L1935.95 1143.36 L1940.32 1139.11 L1944.68 1134.85 L1949.04 1130.59 L1953.41 1126.32 L1957.77 1122.04 L1962.13 1117.76 L1966.49 1113.48 L1970.86 1109.19 L1975.22 1104.89 L1979.58 1100.60 L1983.95 1096.30 L1988.31 1091.99 L1992.67 1087.69 L1997.03 1083.38 L2001.40 1079.07 L2005.76 1074.76 L2010.12 1070.44 L2014.49 1066.12 L2018.85 1061.81 L2023.21 1057.49 L2027.58 1053.16 L2031.94 1048.84 L2036.30 1044.51 L2040.66 1040.19 L2045.03 1035.86 L2049.39 1031.53 L2053.75 1027.21 L2058.12 1022.88 L2062.48 1018.54 L2066.84 1014.21 L2071.21 1009.88 L2075.57 1005.55 L2079.93 1001.22 L2084.30 996.88 L2088.66 992.55 L2093.02 988.21 L2097.38 983.88 L2101.75 979.54 L2106.11 975.21 L2110.47 970.87 L2114.84 966.53 L2119.20 962.20 L2123.56 957.86 L2127.93 953.52 L2132.29 949.18 L2136.65 944.85 L2141.01 940.51 L2145.38 936.17 L2149.74 931.83 L2154.10 927.49 L2158.47 923.16 L2162.83 918.82 L2167.19 914.48 L2171.55 910.14 L2175.92 905.80 L2180.28 901.46 L2184.64 897.12 L2189.01 892.78 L2193.37 888.44 L2197.73 884.10 L2202.10 879.76 L2206.46 875.42 L2210.82 871.08 L2215.18 866.75 L2219.55 862.41 L2223.91 858.07 L2228.27 853.73 L2232.64 849.39 L2237.00 845.05" stroke="#3030ff"/>
<path d="M1364.40 1338.60 L1368.76 1338.60 L1373.13 1338.60 L1377.49 1338.60 L1381.85 1338.60 L1386.22 1338.60 L1390.58 1338.60 L1394.94 1338.60 L1399.30 1338.60 L1403.67 1338.60 L1408.03 1338.60 L1412.39 1338.60 L1416.76 1338.59 L1421.12 1338.59 L1425.48 1338.59 L1429.85 1338.59 L1434.21 1338.59 L1438.57 1338.59 L1442.93 1338.59 L1447.30 1338.59 L1451.66 1338.58 L1456.02 1338.58 L1460.39 1338.58 L1464.75 1338.57 L1469.11 1338.57 L1473.48 1338.57 L1477.84 1338.56 L1482.20 1338.56 L1486.56 1338.55 L1490.93 1338.54 L1495.29 1338.54 L1499.65 1338.53 L1504.02 1338.52 L1508.38 1338.50 L1512.74 1338.49 L1517.11 1338.47 L1521.47 1338.45 L1525.83 1338.43 L1530.19 1338.41 L1534.56 1338.38 L1538.92 1338.35 L1543.28 1338.32 L1547.65 1338.28 L1552.01 1338.24 L1556.37 1338.19 L1560.74 1338.13 L1565.10 1338.06 L1569.46 1337.99 L1573.82 1337.91 L1578.19 1337.81 L1582.55 1337.70 L1586.91 1337.59 L1591.28 1337.45 L1595.64 1337.31 L1600.00 1337.14 L1604.37 1336.95 L1608.73 1336.74 L1613.09 1336.50 L1617.45 1336.23 L1621.82 1335.92 L1626.18 1335.57 L1630.54 1335.21 L1634.91 1334.81 L1639.27 1334.36 L1643.63 1333.86 L1648.00 1333.29 L1652.36 1332.72 L1656.72 1332.08 L1661.08 1331.37 L1665.45 1330.58 L1669.81 1329.71 L1674.17 1328.83 L1678.54 1327.86 L1682.90 1326.79 L1687.26 1325.62 L1691.62 1324.33 L1695.99 1323.12 L1700.35 1321.80 L1704.71 1320.37 L1709.08 1318.81 L1713.44 1317.12 L1717.80 1315.49 L1722.17 1313.73 L1726.53 1311.84 L1730.89 1309.80 L1735.26 1307.61 L1739.62 1305.56 L1743.98 1303.37 L1748.34 1301.03 L1752.71 1298.54 L1757.07 1295.89 L1761.43 1293.52 L1765.80 1291.03 L1770.16 1288.40 L1774.52 1285.62 L1778.88 1282.69 L1783.25 1279.86 L1787.61 1276.90 L1791.97 1273.78 L1796.34 1270.51 L1800.70 1267.07 L1805.06 1263.60 L1809.43 1260.07 L1813.79 1256.50 L1818.15 1252.87 L1822.52 1249.21 L1826.88 1245.49 L1831.24 1241.74 L1835.60 1237.96 L1839.97 1234.13 L1844.33 1230.27 L1848.69 1226.38 L1853.06 1222.46 L1857.42 1218.51 L1861.78 1214.54 L1866.14 1210.54 L1870.51 1206.51 L1874.87 1202.47 L1879.23 1198.40 L1883.60 1194.32 L1887.96 1190.22 L1892.32 1186.10 L1896.69 1181.97 L1901.05 1177.82 L1905.41 1173.66 L1909.78 1169.49 L1914.14 1165.31 L1918.50 1161.11 L1922.86 1156.91 L1927.23 1152.69 L1931.59 1148.47 L1935.95 1144.24 L1940.32 1140.01 L1944.68 1135.77 L1949.04 1131.52 L1953.41 1127.26 L1957.77 1123.00 L1962.13 1118.74 L1966.49 1114.47 L1970.86 1110.19 L1975.22 1105.92 L1979.58 1101.63 L1983.95 1097.35 L1988.31 1093.06 L1992.67 1088.77 L1997.03 1084.48 L2001.40 1080.18 L2005.76 1075.89 L2010.12 1071.59 L2014.49 1067.28 L2018.85 1062.98 L2023.21 1058.67 L2027.58 1054.37 L2031.94 1050.06 L2036.30 1045.75 L2040.66 1041.44 L2045.03 1037.13 L2049.39 1032.82 L2053.75 1028.50 L2058.12 1024.19 L2062.48 1019.87 L2066.84 1015.56 L2071.21 1011.24 L2075.57 1006.92 L2079.93 1002.60 L2084.30 998.29 L2088.66 993.97 L2093.02 989.65 L2097.38 985.33 L2101.75 981.01 L2106.11 976.69 L2110.47 972.36 L2114.84 968.04 L2119.20 963.72 L2123.56 959.40 L2127.93 955.08 L2132.29 950.76 L2136.65 946.43 L2141.01 942.11 L2145.38 937.79 L2149.74 933.46 L2154.10 929.14 L2158.47 924.82 L2162.83 920.49 L2167.19 916.17 L2171.55 911.85 L2175.92 907.52 L2180.28 903.20 L2184.64 898.88 L2189.01 894.55 L2193.37 890.23 L2197.73 885.90 L2202.10 881.58 L2206.46 877.26 L2210.82 872.93 L2215.18 868.61 L2219.55 864.28 L2223.91 859.96 L2228.27 855.63 L2232.64 851.31 L2237.00 846.98" stroke="#858000"/>
</g>
<text x="1347.6" y="1355.3" font-size="50" letter-spacing="2.4" text-anchor="end">0</text>
<text x="1347.6" y="1241.3" font-size="50" letter-spacing="2.4" text-anchor="end">100</text>
<text x="1347.6" y="1127.3" font-size="50" letter-spacing="2.4" text-anchor="end">200</text>
<text x="1347.6" y="1013.4" font-size="50" letter-spacing="2.4" text-anchor="end">300</text>
<text x="1347.6" y="899.4" font-size="50" letter-spacing="2.4" text-anchor="end">400</text>
<text x="1347.6" y="785.4" font-size="50" letter-spacing="2.4" text-anchor="end">500</text>
<text x="1364.0" y="1399.3" font-size="50" letter-spacing="2.1" text-anchor="middle">0.0</text>
<text x="1587.5" y="1399.3" font-size="50" letter-spacing="2.1" text-anchor="middle">0.2</text>
<text x="1798.6" y="1399.3" font-size="50" letter-spacing="2.1" text-anchor="middle">0.4</text>
<text x="2022.0" y="1399.3" font-size="50" letter-spacing="2.1" text-anchor="middle">0.6</text>
<text x="2233.6" y="1399.3" font-size="50" letter-spacing="2.1" text-anchor="middle">0.8</text>
<text x="1567.8" y="1439.5" font-size="52.5">Gate Voltage, <tspan x="1865.3">V</tspan><tspan x="1903.6" font-size="31" dy="18.7">GS </tspan><tspan x="1956.5" dy="-18.7">(V)</tspan></text>
<text transform="translate(1234,1038.9) rotate(-90)" font-size="45.3" text-anchor="middle">Drain Current, I<tspan font-size="29" dy="15.3">D</tspan><tspan dy="-15.3"> (μA/μm)</tspan></text>
<rect x="1388" y="781.1" width="171" height="215.8" fill="#fff" stroke="#9c9c9c" stroke-width="2"/>
<rect x="1386.1" y="781.1" width="3.7" height="216.7" fill="#bdbdbd"/>
<line x1="1391.5" y1="800.3" x2="1468" y2="800.3" stroke="#000000" stroke-width="2.6"/>
<text x="1474" y="811.3" font-size="32" letter-spacing="0.7" fill="#111">SiO<tspan font-size="23" dy="7">2</tspan></text>
<line x1="1391.5" y1="842.9" x2="1468" y2="842.9" stroke="#ff0000" stroke-width="2.6"/>
<text x="1474" y="853.9" font-size="32" letter-spacing="0.7" fill="#111">Si<tspan font-size="23" dy="7">3</tspan><tspan dy="-7">N</tspan><tspan font-size="23" dy="7">4</tspan></text>
<line x1="1391.5" y1="885.6" x2="1468" y2="885.6" stroke="#00ee22" stroke-width="2.6"/>
<text x="1474" y="896.6" font-size="32" letter-spacing="0.7" fill="#111">Al<tspan font-size="23" dy="7">2</tspan><tspan dy="-7">O</tspan><tspan font-size="23" dy="7">3</tspan></text>
<line x1="1391.5" y1="928.2" x2="1468" y2="928.2" stroke="#3030ff" stroke-width="2.6"/>
<text x="1474" y="939.2" font-size="32" letter-spacing="0.7" fill="#111">ZrO<tspan font-size="23" dy="7">2</tspan></text>
<line x1="1391.5" y1="970.6" x2="1468" y2="970.6" stroke="#858000" stroke-width="2.6"/>
<text x="1474" y="981.6" font-size="32" letter-spacing="0.7" fill="#111">HfO<tspan font-size="23" dy="7">2</tspan></text>
</svg></body></html>
